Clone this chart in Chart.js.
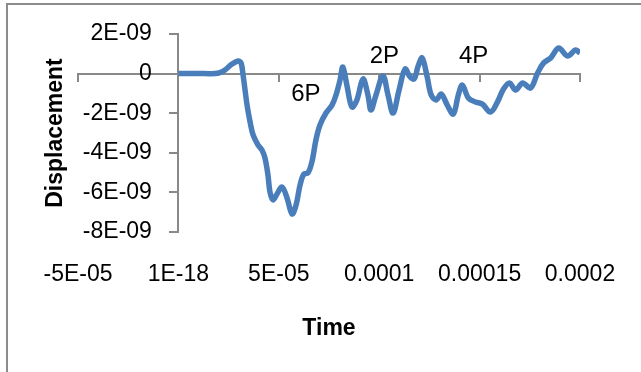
<!DOCTYPE html>
<html>
<head>
<meta charset="utf-8">
<script src="https://cdn.jsdelivr.net/npm/chart.js@4"></script>
<style>
    html, body { margin: 0; padding: 0; background: #fff; overflow: hidden; }
    #wrap { position: absolute; left: 0; top: 0; width: 641px; height: 372px; }
    #frame { position: absolute; left: 6px; top: 3px; width: 700px; height: 420px; border: 2px solid #8c8c8c; box-sizing: border-box; }
</style>
</head>
<body>
<div id="frame"></div>
<div id="wrap"><canvas id="chart"></canvas></div>
<script>
// ======================
// Данные графика
// ======================

// время, мкс (x 1e-6 с)
const timeUs = [
    0, 5.8, 13.2, 18.2, 20.7, 23.2, 26.7, 29.7, 31.2, 32.2,
    34.2, 35.7, 37.2, 39.6, 41.6, 43.1, 44.6, 45.6, 47.1, 49.1,
    51.6, 54.1, 56.6, 58.6, 60.6, 62.5, 64.5, 66.5, 68.5, 70.5,
    73.5, 76.5, 78.5, 80.5, 81.9, 83.9, 86.4, 88.9, 91.9, 94.4,
    95.9, 98.4, 101.9, 104.4, 106.9, 109.9, 112.9, 115.4, 117.4, 119.4,
    121.4, 123.9, 125.9, 128.4, 130.9, 133.9, 136.9, 139.4, 141.4, 144.4,
    147.9, 151.4, 155.4, 158.9, 161.9, 164.9, 167.9, 171.4, 175.4, 178.9,
    181.9, 185.4, 189.4, 193.8, 197.8, 200.0
];

// перемещение, x 1e-9
const dispNano = [
    0, 0, 0, 0, 0.05, 0.18, 0.48, 0.64, 0.54, -0.07,
    -1.59, -2.44, -3.1, -3.6, -3.86, -4.26, -5.12, -5.98, -6.38, -6.08,
    -5.73, -6.28, -7.09, -6.64, -5.62, -5.07, -5.02, -4.46, -3.35, -2.6,
    -1.99, -1.59, -1.08, -0.32, 0.33, -0.58, -1.69, -1.33, -0.27, -1.08,
    -1.84, -1.08, -0.12, -1.08, -1.99, -0.83, 0.23, -0.17, -0.27, 0.38,
    0.79, -0.17, -1.08, -1.33, -1.03, -1.59, -2.04, -1.08, -0.58, -1.23,
    -1.43, -1.54, -1.94, -1.43, -0.78, -0.47, -0.83, -0.47, -0.73, 0.03,
    0.54, 0.79, 1.29, 0.89, 1.19, 1.04
];

const xTickLabels = ['-5E-05', '1E-18', '5E-05', '0.0001', '0.00015', '0.0002'];
const yTickLabels = ['-8E-09', '-6E-09', '-4E-09', '-2E-09', '0', '2E-09'];

// подписи на графике
const noteText = ['6P', '2P', '4P'];
const noteTime = [63.5, 102.6, 147.0];
const noteDisp = [-1.03, 0.89, 0.89];

// ======================
// Настройки
// ======================

const FONT = "'Liberation Sans', Arial, sans-serif";
const AXIS_COLOR = '#898989';
const LINE_COLOR = '#4a7ebb';
const Y_LABEL_AT = -1.32e-5; // где стоят подписи оси Y (чуть левее нуля)

const points = timeUs.map((t, i) => ({ x: t * 1e-6, y: dispNano[i] * 1e-9 }));

function noPadding(scale) {
    scale.paddingTop = 0;
    scale.paddingBottom = 0;
    scale.paddingLeft = 0;
    scale.paddingRight = 0;
}

const notesPlugin = {
    id: 'notes',
    afterDatasetsDraw(chart) {
        const ctx = chart.ctx;
        const xs = chart.scales.x;
        const ys = chart.scales.y;
        ctx.save();
        ctx.font = '24px ' + FONT;
        ctx.fillStyle = '#000';
        ctx.textAlign = 'center';
        ctx.textBaseline = 'middle';
        noteText.forEach((txt, i) => {
            ctx.fillText(txt, xs.getPixelForValue(noteTime[i] * 1e-6), ys.getPixelForValue(noteDisp[i] * 1e-9));
        });
        ctx.restore();
    }
};

new Chart(document.getElementById('chart'), {
    type: 'scatter',
    data: {
        datasets: [{
            data: points,
            showLine: true,
            borderColor: LINE_COLOR,
            borderWidth: 5.5,
            pointRadius: 0,
            tension: 0.35,
            xAxisID: 'x',
            yAxisID: 'y'
        }]
    },
    options: {
        responsive: true,
        maintainAspectRatio: false,
        animation: false,
        layout: { padding: { top: 34, right: 61, left: 0, bottom: 0 } },
        plugins: {
            legend: { display: false },
            tooltip: { enabled: false }
        },
        scales: {
            // ось X по нулю
            x: {
                type: 'linear',
                position: { y: 0 },
                min: -5e-5,
                max: 2e-4,
                ticks: { stepSize: 5e-5, display: false },
                grid: { drawOnChartArea: false, drawTicks: true, tickLength: 7, color: AXIS_COLOR, lineWidth: 2 },
                border: { color: AXIS_COLOR, width: 2 },
                afterFit: noPadding
            },
            // подписи X снизу
            x2: {
                type: 'linear',
                position: 'bottom',
                min: -5e-5,
                max: 2e-4,
                ticks: {
                    stepSize: 5e-5,
                    padding: 29,
                    maxRotation: 0,
                    autoSkip: false,
                    color: '#000',
                    font: { family: FONT, size: 23 },
                    callback: (v, i) => xTickLabels[i]
                },
                grid: { display: false, drawTicks: false },
                border: { display: false },
                title: {
                    display: true,
                    text: 'Time',
                    color: '#000',
                    font: { family: FONT, size: 23, weight: 'bold' },
                    padding: { top: 0, bottom: 30 }
                },
                afterFit: (s) => { noPadding(s); s.height = 140; }
            },
            // ось Y по нулю (линия и засечки)
            y: {
                type: 'linear',
                position: { x: 0 },
                min: -8e-9,
                max: 2e-9,
                ticks: { stepSize: 2e-9, display: false },
                grid: { drawOnChartArea: false, drawTicks: true, tickLength: 8, color: AXIS_COLOR, lineWidth: 2 },
                border: { color: AXIS_COLOR, width: 2 },
                afterFit: noPadding
            },
            // подписи оси Y
            yl: {
                type: 'linear',
                position: { x: Y_LABEL_AT },
                min: -8e-9,
                max: 2e-9,
                ticks: {
                    stepSize: 2e-9,
                    color: '#000',
                    font: { family: FONT, size: 23 },
                    callback: (v, i) => yTickLabels[i]
                },
                grid: { display: false },
                border: { display: false },
                afterFit: noPadding
            },
            // заголовок Y слева
            yt: {
                type: 'linear',
                position: 'left',
                min: -8e-9,
                max: 2e-9,
                ticks: { display: false },
                grid: { display: false },
                border: { display: false },
                title: {
                    display: true,
                    text: 'Displacement',
                    color: '#000',
                    font: { family: FONT, size: 23, weight: 'bold' },
                    padding: { top: 42, bottom: 0 }
                },
                afterFit: (s) => { noPadding(s); s.width = 78; }
            }
        }
    },
    plugins: [notesPlugin]
});
</script>
</body>
</html>
